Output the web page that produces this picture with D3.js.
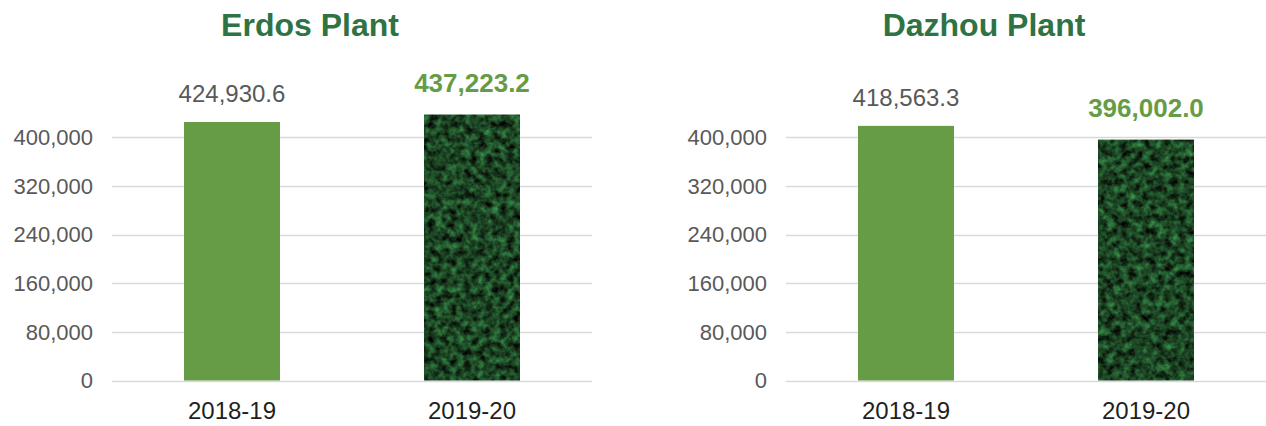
<!DOCTYPE html>
<html>
<head>
<meta charset="utf-8">
<script src="https://cdn.jsdelivr.net/npm/d3@7"></script>
<style>
  body { margin: 0; background: #fff; }
  svg { display: block; font-family: "Liberation Sans", Arial, Helvetica, sans-serif; }
</style>
</head>
<body>
<svg id="chart" width="1266" height="426"></svg>
<script>
// data
const plants = ["Erdos Plant", "Dazhou Plant"];
const years = ["2018-19", "2019-20"];
const erdosValues = [424930.6, 437223.2];
const dazhouValues = [418563.3, 396002.0];
const yTicks = [0, 80000, 160000, 240000, 320000, 400000];

const svg = d3.select("#chart");

// leafy texture for the current year bar
let defs = svg.append("defs");
let leaf = defs.append("filter")
    .attr("id", "leaf")
    .attr("filterUnits", "objectBoundingBox")
    .attr("color-interpolation-filters", "sRGB")
    .attr("x", 0).attr("y", 0).attr("width", 1).attr("height", 1);
leaf.append("feTurbulence")
    .attr("type", "fractalNoise")
    .attr("baseFrequency", 0.14)
    .attr("numOctaves", 3)
    .attr("seed", 7)
    .attr("result", "noise");
leaf.append("feColorMatrix")
    .attr("in", "noise")
    .attr("type", "matrix")
    .attr("values", "0.3 0 0 0 -0.04  0.8 0 0 0 -0.13  0.42 0 0 0 -0.07  0 0 0 0 1")
    .attr("result", "col");
leaf.append("feComposite")
    .attr("in", "col")
    .attr("in2", "SourceGraphic")
    .attr("operator", "in");

function drawPlant(title, values, x0, x1, titleX) {
    let g = svg.append("g");

    // x position scale
    let x = d3.scaleBand()
        .domain(years)
        .range([x0, x1])
        .paddingInner(0.6)
        .paddingOuter(0.3);

    // y position scale
    let y = d3.scaleLinear()
        .domain([0, 480000])
        .range([380.5, 88.5]);

    // gridlines
    g.selectAll("line.grid")
        .data(yTicks).enter()
        .append("line")
            .attr("class", "grid")
            .attr("x1", x0).attr("x2", x1)
            .attr("y1", d => Math.round(y(d)) + 0.5)
            .attr("y2", d => Math.round(y(d)) + 0.5)
            .attr("stroke", "#d9d9d9")
            .attr("stroke-width", 1.5);

    // y tick labels
    g.selectAll("text.ytick")
        .data(yTicks).enter()
        .append("text")
            .attr("class", "ytick")
            .attr("x", x0 - 19)
            .attr("y", d => y(d))
            .attr("dy", "0.35em")
            .attr("text-anchor", "end")
            .attr("fill", "#595959")
            .style("font-size", "22px")
            .text(d => d3.format(",")(d));

    // bars
    g.selectAll("rect.bar")
        .data(values).enter()
        .append("rect")
            .attr("class", "bar")
            .attr("x", (d, i) => x(years[i]))
            .attr("width", x.bandwidth())
            .attr("y", d => y(d))
            .attr("height", d => y(0) - y(d))
            .attr("fill", (d, i) => i == 0 ? "#659c45" : "#163d20")
            .attr("filter", (d, i) => i == 0 ? null : "url(#leaf)");

    // value labels
    g.selectAll("text.val")
        .data(values).enter()
        .append("text")
            .attr("class", "val")
            .attr("x", (d, i) => x(years[i]) + x.bandwidth() / 2)
            .attr("y", (d, i) => y(d) - (i == 0 ? 20 : 23))
            .attr("text-anchor", "middle")
            .attr("fill", (d, i) => i == 0 ? "#595959" : "#659c45")
            .attr("font-weight", (d, i) => i == 0 ? 400 : 700)
            .style("font-size", (d, i) => i == 0 ? "24px" : "26px")
            .text(d => d3.format(",.1f")(d));

    // x axis labels
    g.selectAll("text.xlab")
        .data(years).enter()
        .append("text")
            .attr("class", "xlab")
            .attr("x", d => x(d) + x.bandwidth() / 2)
            .attr("y", 419)
            .attr("text-anchor", "middle")
            .attr("fill", "#1f1f1f")
            .style("font-size", "24px")
            .text(d => d);

    // chart title
    g.append("text")
        .attr("x", titleX)
        .attr("y", 36)
        .attr("text-anchor", "middle")
        .attr("fill", "#2e7344")
        .attr("font-weight", 700)
        .style("font-size", "32px")
        .text(title);
}

drawPlant(plants[0], erdosValues, 112, 592, 310);
drawPlant(plants[1], dazhouValues, 786, 1266, 984);
</script>
</body>
</html>
